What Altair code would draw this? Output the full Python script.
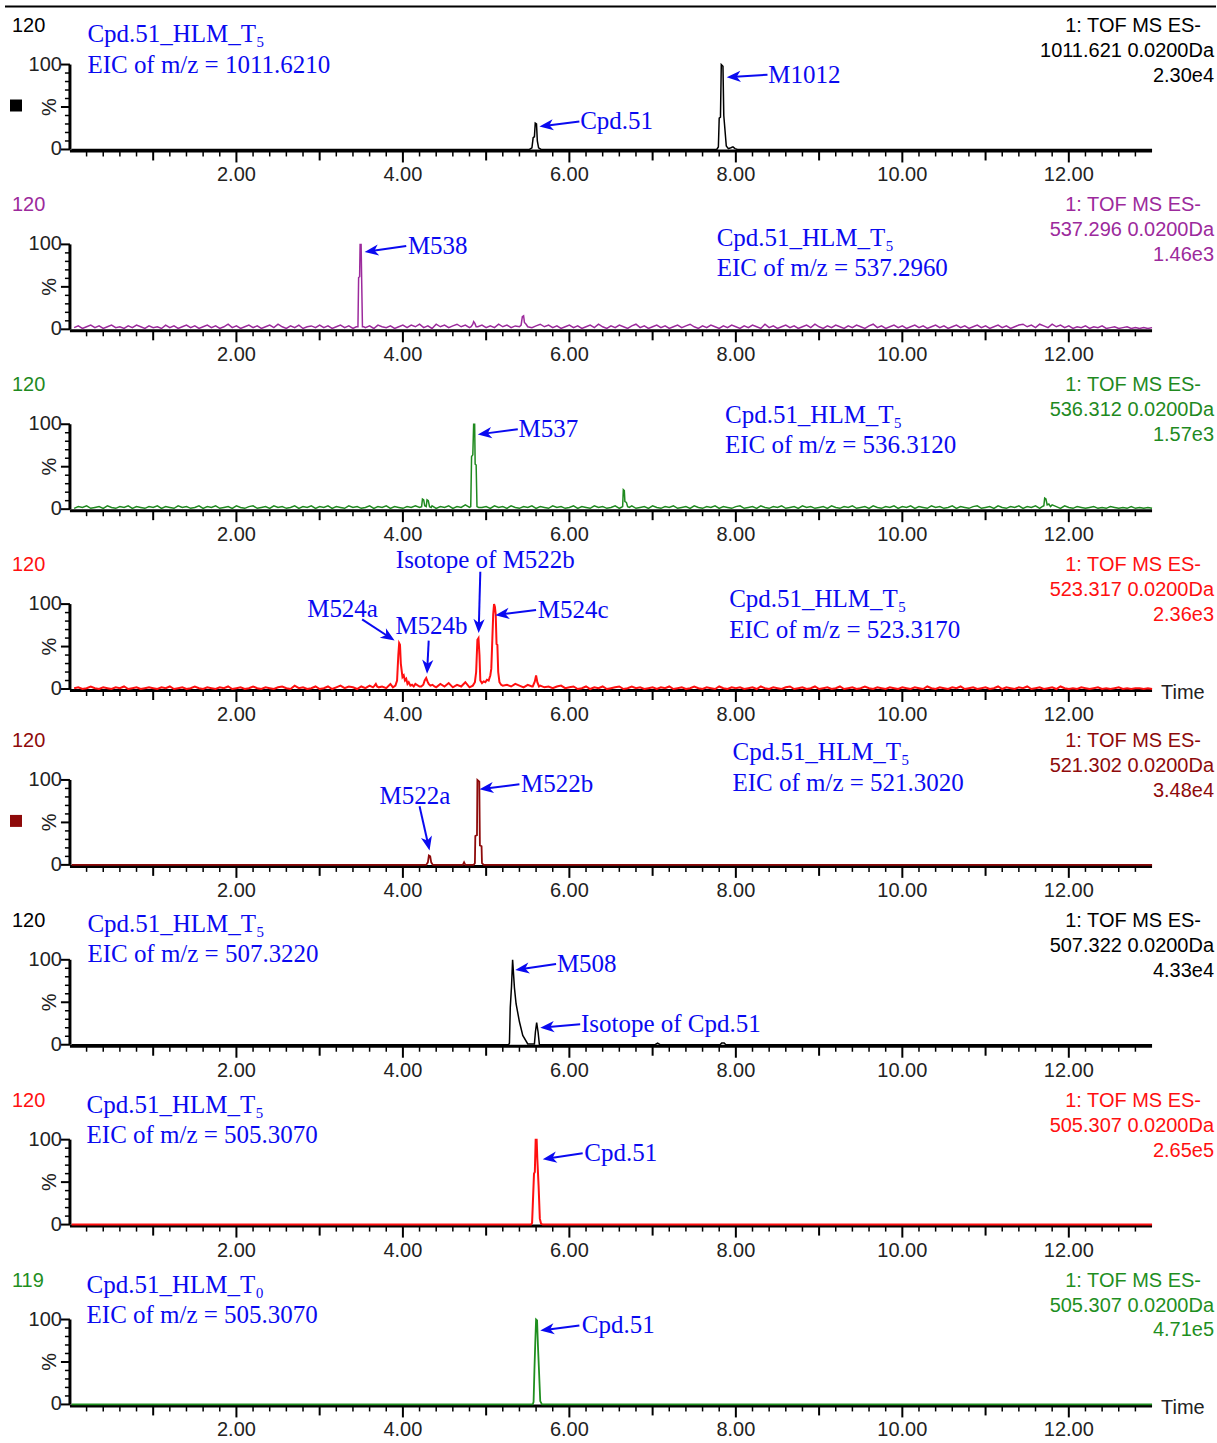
import math

import altair as alt
import pandas as pd

# ------------------------------------------------------------------
# Extracted-ion chromatograms of Cpd.51 and its HLM metabolites
# ------------------------------------------------------------------

sample_names = ["Cpd.51_HLM_T₅"] * 7 + ["Cpd.51_HLM_T₀"]
eic_targets = ["1011.6210", "537.2960", "536.3120", "523.3170",
               "521.3020", "507.3220", "505.3070", "505.3070"]
channel_mz = ["1011.621", "537.296", "536.312", "523.317",
              "521.302", "507.322", "505.307", "505.307"]
base_intensity = ["2.30e4", "1.46e3", "1.57e3", "2.36e3",
                  "3.48e4", "4.33e4", "2.65e5", "4.71e5"]
full_scale = ["120"] * 7 + ["119"]
trace_colors = ["#000000", "#9C2A9C", "#1F8A1F", "#FF1010",
                "#8E0A0A", "#000000", "#FF1010", "#1F8F1F"]
trace_widths = [1.5, 1.5, 1.5, 2.0, 1.8, 1.5, 2.0, 1.8]

time_labels = [2, 4, 6, 8, 10, 12]

# baseline noise (% of full scale), one value every 0.05 min from 0.05 to 13.00
noise_537 = [
    2, 4, 1, 3, 5, 2, 4, 1, 3, 5, 2, 3, 1, 4, 2, 5, 3, 1, 4, 2,
    3, 1, 5, 2, 4, 1, 3, 5, 2, 4, 1, 3, 5, 2, 4, 1, 3, 6, 2, 4,
    1, 3, 5, 2, 4, 1, 3, 5, 2, 6, 3, 1, 4, 2, 5, 1, 3, 4, 2, 5,
    2, 4, 1, 3, 5, 2, 4, 1, 3, 5, 2, 4, 1, 5, 3, 2, 4, 1, 3, 5,
    2, 5, 3, 6, 2, 4, 1, 6, 3, 5, 2, 4, 6, 3, 5, 2, 6, 3, 5, 2,
    4, 2, 6, 3, 5, 2, 4, 6, 3, 5, 2, 4, 6, 3, 5, 2, 4, 1, 3, 5,
    2, 4, 1, 3, 5, 2, 6, 3, 1, 4, 2, 5, 3, 1, 4, 6, 2, 4, 1, 3,
    5, 2, 4, 1, 3, 5, 2, 4, 6, 3, 1, 4, 2, 5, 3, 1, 4, 2, 5, 3,
    1, 4, 2, 5, 3, 1, 6, 2, 4, 1, 3, 5, 2, 4, 1, 3, 5, 2, 6, 3,
    1, 4, 2, 5, 3, 1, 4, 2, 5, 3, 1, 4, 6, 2, 4, 1, 3, 5, 2, 4,
    1, 3, 5, 2, 4, 1, 3, 5, 2, 4, 1, 3, 5, 2, 4, 1, 3, 5, 2, 4,
    1, 3, 5, 2, 4, 1, 3, 5, 6, 3, 5, 2, 6, 4, 2, 6, 3, 5, 2, 4,
    1, 3, 2, 4, 1, 3, 2, 4, 1, 2, 3, 1, 2, 3, 1, 2, 1, 2, 1, 2,
]
noise_536 = [
    1, 3, 2, 4, 1, 2, 3, 1, 4, 2, 1, 3, 2, 4, 1, 3, 2, 1, 3, 2,
    4, 1, 3, 2, 1, 4, 2, 3, 1, 2, 4, 1, 3, 2, 4, 1, 2, 3, 1, 4,
    2, 1, 3, 4, 1, 2, 3, 1, 4, 2, 3, 1, 2, 4, 1, 3, 2, 4, 1, 3,
    2, 4, 1, 3, 2, 1, 4, 2, 3, 1, 2, 4, 1, 3, 2, 4, 1, 3, 2, 1,
    3, 2, 4, 1, 3, 2, 4, 1, 3, 2, 4, 1, 3, 2, 5, 3, 1, 4, 2, 3,
    1, 4, 2, 3, 1, 4, 2, 1, 3, 2, 4, 1, 3, 2, 1, 4, 2, 3, 1, 2,
    4, 1, 3, 2, 1, 4, 2, 3, 1, 2, 4, 1, 3, 2, 4, 1, 2, 3, 1, 4,
    2, 1, 3, 2, 4, 1, 2, 3, 1, 4, 2, 1, 3, 2, 4, 1, 3, 2, 1, 3,
    4, 1, 2, 3, 1, 4, 2, 1, 3, 2, 4, 1, 2, 3, 1, 4, 2, 3, 1, 2,
    3, 1, 4, 2, 1, 3, 2, 4, 1, 2, 3, 1, 4, 2, 1, 3, 2, 4, 1, 3,
    2, 4, 1, 3, 2, 1, 4, 2, 3, 1, 2, 4, 1, 3, 2, 1, 3, 4, 1, 2,
    3, 1, 4, 2, 1, 3, 2, 4, 1, 3, 2, 4, 1, 3, 2, 5, 3, 1, 4, 2,
    1, 3, 2, 1, 2, 3, 1, 2, 1, 3, 2, 1, 2, 1, 3, 1, 2, 1, 2, 1,
]
noise_523 = [
    1, 2, 0, 1, 3, 1, 0, 2, 1, 0, 2, 1, 3, 0, 1, 2, 0, 1, 2, 1,
    0, 2, 1, 3, 0, 1, 2, 0, 1, 3, 1, 0, 2, 1, 0, 2, 1, 3, 0, 1,
    2, 0, 1, 3, 1, 0, 2, 1, 0, 2, 3, 1, 0, 4, 1, 2, 0, 1, 3, 0,
    1, 3, 0, 2, 4, 1, 3, 2, 0, 3, 1, 4, 2, 5, 3, 1, 6, 3, 2, 4,
    5, 2, 6, 3, 1, 7, 4, 2, 6, 3, 7, 2, 5, 3, 8, 2, 6, 4, 2, 6,
    3, 5, 7, 2, 5, 3, 6, 4, 2, 5, 3, 1, 4, 2, 3, 1, 3, 4, 1, 2,
    3, 0, 1, 3, 0, 2, 1, 3, 0, 1, 2, 3, 0, 1, 3, 1, 2, 0, 1, 2,
    0, 2, 1, 3, 0, 1, 2, 0, 1, 3, 1, 0, 2, 1, 0, 3, 1, 0, 2, 1,
    2, 0, 1, 2, 0, 3, 1, 0, 2, 1, 0, 2, 3, 0, 1, 2, 0, 1, 3, 0,
    1, 2, 0, 1, 3, 0, 1, 2, 0, 1, 3, 1, 0, 2, 1, 0, 2, 1, 0, 2,
    1, 0, 2, 1, 0, 3, 1, 0, 2, 1, 0, 2, 1, 3, 0, 1, 2, 0, 1, 2,
    0, 1, 3, 0, 2, 1, 0, 2, 1, 3, 0, 1, 2, 0, 1, 2, 0, 3, 1, 0,
    1, 0, 2, 1, 0, 1, 2, 0, 1, 0, 1, 2, 0, 1, 0, 1, 1, 0, 1, 0,
]

# peak profiles: (retention time in min, % of full scale)
peaks_1011 = [
    [(5.52, 0), (5.55, 2), (5.565, 14), (5.58, 15), (5.59, 31), (5.605, 30),
     (5.615, 10), (5.63, 2), (5.66, 0)],
    [(7.77, 0), (7.79, 3), (7.80, 37), (7.815, 38), (7.825, 100), (7.845, 98),
     (7.855, 40), (7.87, 22), (7.885, 4), (7.91, 1), (7.94, 2), (7.965, 3),
     (7.99, 1), (8.02, 0)],
]
peaks_537 = [
    [(3.44, 3), (3.46, 3), (3.468, 61), (3.48, 62), (3.486, 100), (3.498, 100),
     (3.504, 62), (3.514, 3), (3.53, 3)],
    [(4.82, 3), (4.84, 6), (4.85, 9), (4.865, 7), (4.88, 3)],
    [(5.40, 3), (5.42, 5), (5.435, 15), (5.45, 16), (5.46, 8), (5.48, 6), (5.50, 3)],
]
peaks_536 = [
    [(4.20, 2), (4.225, 3), (4.235, 12), (4.25, 11), (4.262, 4), (4.28, 3),
     (4.29, 11), (4.305, 10), (4.32, 3), (4.34, 2)],
    [(4.80, 2), (4.815, 3), (4.825, 62), (4.84, 64), (4.85, 100), (4.862, 100),
     (4.868, 53), (4.88, 52), (4.89, 3), (4.91, 2)],
    [(6.62, 2), (6.64, 3), (6.648, 23), (6.66, 22), (6.667, 9), (6.685, 8),
     (6.70, 3), (6.72, 2)],
    [(11.68, 3), (11.70, 4), (11.71, 13), (11.725, 12), (11.74, 5), (11.76, 6),
     (11.78, 3)],
]
peaks_523 = [
    [(3.64, 2), (3.66, 4), (3.675, 6), (3.69, 3), (3.71, 2)],
    [(3.88, 2), (3.91, 4), (3.93, 10), (3.945, 40), (3.955, 54), (3.965, 52),
     (3.975, 30), (3.985, 22), (3.995, 14), (4.01, 16), (4.025, 10), (4.04, 12),
     (4.055, 6), (4.07, 8), (4.09, 4), (4.11, 5), (4.13, 3)],
    [(4.22, 3), (4.245, 5), (4.262, 10), (4.28, 13), (4.295, 9), (4.31, 6),
     (4.33, 4), (4.355, 5), (4.38, 3)],
    [(4.84, 4), (4.865, 8), (4.88, 20), (4.895, 58), (4.908, 60), (4.92, 40),
     (4.93, 10), (4.95, 7), (4.97, 9), (4.99, 8), (5.01, 11), (5.03, 10),
     (5.05, 16), (5.062, 24), (5.075, 60), (5.085, 88), (5.095, 100),
     (5.105, 97), (5.115, 88), (5.125, 53), (5.135, 52), (5.145, 20),
     (5.16, 8), (5.18, 5), (5.20, 4)],
    [(5.56, 3), (5.585, 9), (5.60, 16), (5.615, 8), (5.635, 3)],
]
peaks_521 = [
    [(4.28, 0), (4.30, 3), (4.312, 11), (4.328, 10), (4.34, 3), (4.36, 0)],
    [(4.72, 0), (4.735, 3), (4.75, 0)],
    [(4.85, 0), (4.865, 2), (4.87, 34), (4.89, 35), (4.895, 100), (4.918, 98),
     (4.925, 23), (4.945, 22), (4.95, 2), (4.97, 0)],
]
peaks_507 = [
    [(5.27, 0), (5.28, 2), (5.29, 44), (5.305, 69), (5.318, 100), (5.34, 67),
     (5.36, 48), (5.40, 27), (5.44, 11), (5.50, 1), (5.58, 1), (5.592, 15),
     (5.607, 26), (5.624, 15), (5.64, 0)],
    [(7.03, 0), (7.06, 2), (7.09, 0)],
    [(7.81, 0), (7.83, 2), (7.86, 2), (7.88, 0)],
]
peaks_505_t5 = [
    [(5.54, 0), (5.552, 2), (5.56, 22), (5.575, 60), (5.585, 62), (5.595, 100),
     (5.607, 100), (5.615, 77), (5.63, 46), (5.645, 7), (5.66, 1), (5.68, 0)],
]
peaks_505_t0 = [
    [(5.56, 0), (5.57, 3), (5.58, 40), (5.59, 72), (5.60, 100), (5.612, 99),
     (5.622, 70), (5.635, 40), (5.65, 4), (5.67, 0)],
]

panel_noise = [None, noise_537, noise_536, noise_523, None, None, None, None]
panel_peaks = [peaks_1011, peaks_537, peaks_536, peaks_523,
               peaks_521, peaks_507, peaks_505_t5, peaks_505_t0]

# sample / EIC caption: (time, % for first line, % for second line)
caption_pos = [(0.21, 136, 99), (7.77, 108, 72), (7.87, 111, 75), (7.92, 106, 69),
               (7.96, 133, 96), (0.21, 142, 107), (0.20, 141, 105), (0.20, 141, 105)]

# peak labels: (text, time, %, align)
peak_labels = [
    [("M1012", 8.39, 88, "left"), ("Cpd.51", 6.13, 33, "left")],
    [("M538", 4.06, 98, "left")],
    [("M537", 5.39, 94, "left")],
    [("Isotope of M522b", 4.99, 152, "center"), ("M524a", 2.85, 94, "left"),
     ("M524b", 3.91, 74, "left"), ("M524c", 5.62, 93, "left")],
    [("M522a", 3.72, 81, "left"), ("M522b", 5.42, 95, "left")],
    [("M508", 5.85, 95, "left"), ("Isotope of Cpd.51", 6.14, 24, "left")],
    [("Cpd.51", 6.18, 84, "left")],
    [("Cpd.51", 6.15, 93, "left")],
]
# arrows: (tail time, tail %, tip time, tip %)
peak_arrows = [
    [(8.38, 88, 7.89, 85), (6.12, 33, 5.64, 27)],
    [(4.04, 98, 3.54, 91)],
    [(5.38, 94, 4.90, 88)],
    [(4.93, 138, 4.91, 66), (3.51, 82, 3.90, 57), (4.31, 57, 4.29, 18),
     (5.60, 93, 5.11, 87)],
    [(4.20, 69, 4.32, 17), (5.40, 95, 4.92, 89)],
    [(5.84, 95, 5.35, 88), (6.13, 24, 5.65, 20)],
    [(6.16, 84, 5.68, 77)],
    [(6.12, 93, 5.65, 87)],
]
square_panels = {0: "#000000", 4: "#8E0A0A"}
time_title_panels = [3, 7]

# ---- geometry and styling ----
PLOT_W = 1083
T_MAX = 13.0
PX_PER_MIN = PLOT_W / T_MAX
PX_PER_PCT = 0.85
PANEL_H = [136, 136, 136, 136, 132, 136, 136, 136]
SPACING = 44
LEFT, TOP, CANVAS_W, CANVAS_H = 70, 13, 1217, 1443

BLUE = "#0A0AF0"
SANS = "Liberation Sans"
SERIF = "Liberation Serif"
SERIF_SIZE = 25
ARROW_HEAD = "M0,0 L0.4,1 L0,0.72 L-0.4,1 Z"
HEAD_LEN = 14


def compose_trace(noise, peaks):
    if noise is None:
        base = [(0.02, 0), (T_MAX, 0)]
    else:
        base = [(round(0.05 * (i + 1), 2), v) for i, v in enumerate(noise)]
    windows = [(min(p[0] for p in pk), max(p[0] for p in pk)) for pk in peaks]
    pts = [(t, v) for t, v in base if not any(lo <= t <= hi for lo, hi in windows)]
    for pk in peaks:
        pts.extend(pk)
    pts.sort(key=lambda p: p[0])
    return pd.DataFrame({"t": [p[0] for p in pts], "v": [p[1] for p in pts],
                         "i": list(range(len(pts)))})


def arrow_frame(arrows):
    rows = []
    for t1, v1, t2, v2 in arrows:
        dx = (t2 - t1) * PX_PER_MIN
        dy = -(v2 - v1) * PX_PER_PCT
        length = math.hypot(dx, dy)
        ux, uy = dx / length, dy / length
        back = HEAD_LEN * 0.6
        rows.append(dict(
            t1=t1, v1=v1, t2=t2, v2=v2,
            te=t2 - ux * back / PX_PER_MIN,
            ve=v2 + uy * back / PX_PER_PCT,
            ang=math.degrees(math.atan2(dx, -dy)) % 360,
        ))
    return pd.DataFrame(rows)


def build_panel(k):
    H = PANEL_H[k]
    xs = alt.Scale(domain=[0, T_MAX], nice=False, zero=False)
    ys = alt.Scale(domain=[0, H / PX_PER_PCT], nice=False, zero=False)
    color = trace_colors[k]

    def X(f):
        return alt.X(f, type="quantitative", scale=xs, axis=None)

    def Y(f):
        return alt.Y(f, type="quantitative", scale=ys, axis=None)

    def px_text(x, y, text, **style):
        return alt.Chart(pd.DataFrame({"s": [text]})).mark_text(
            baseline="middle", **style).encode(
            x=alt.value(x), y=alt.value(y), text="s:N")

    one = pd.DataFrame({"a": [0]})
    layers = []

    if k == 0:
        # page frame and the rule across the top
        layers.append(alt.Chart(one).mark_rect(opacity=0, strokeWidth=0).encode(
            x=alt.value(-LEFT), x2=alt.value(CANVAS_W - LEFT),
            y=alt.value(-TOP), y2=alt.value(CANVAS_H - TOP)))
        layers.append(alt.Chart(one).mark_rule(color="black", strokeWidth=2).encode(
            x=alt.value(-LEFT + 5), x2=alt.value(CANVAS_W - LEFT),
            y=alt.value(6 - TOP)))

    # time axis
    layers.append(alt.Chart(pd.DataFrame({"t0": [0.0], "t1": [T_MAX]}))
                  .mark_rule(color="black", strokeWidth=3).encode(
        x=X("t0"), x2=alt.X2("t1"), y=alt.value(H + 1.5)))
    minor_t = [round(j * 0.2, 1) for j in range(1, 65) if j % 5]
    layers.append(alt.Chart(pd.DataFrame({"t": minor_t}))
                  .mark_rule(color="black", strokeWidth=1.5).encode(
        x=X("t"), y=alt.value(H + 2), y2=alt.value(H + 7)))
    layers.append(alt.Chart(pd.DataFrame({"t": [1, 3, 5, 7, 9, 11]}))
                  .mark_rule(color="black", strokeWidth=2).encode(
        x=X("t"), y=alt.value(H + 2), y2=alt.value(H + 11)))
    layers.append(alt.Chart(pd.DataFrame({"t": time_labels}))
                  .mark_rule(color="black", strokeWidth=2).encode(
        x=X("t"), y=alt.value(H + 2), y2=alt.value(H + 13)))
    layers.append(alt.Chart(pd.DataFrame({
        "t": time_labels, "s": [f"{t:.2f}" for t in time_labels]}))
        .mark_text(font=SANS, fontSize=20, color="#222222", baseline="middle").encode(
        x=X("t"), y=alt.value(H + 26), text="s:N"))

    # intensity axis (0-100 %)
    layers.append(alt.Chart(pd.DataFrame({"v0": [0], "v1": [100]}))
                  .mark_rule(color="black", strokeWidth=3).encode(
        x=alt.value(0), y=Y("v0"), y2=alt.Y2("v1")))
    layers.append(alt.Chart(pd.DataFrame({"v": [10, 20, 30, 40, 60, 70, 80, 90]}))
                  .mark_rule(color="black", strokeWidth=1.5).encode(
        x=alt.value(-5), x2=alt.value(0), y=Y("v")))
    layers.append(alt.Chart(pd.DataFrame({"v": [0, 50, 100]}))
                  .mark_rule(color="black", strokeWidth=2).encode(
        x=alt.value(-9), x2=alt.value(0), y=Y("v")))
    layers.append(alt.Chart(pd.DataFrame({"v": [0, 100], "s": ["0", "100"]}))
                  .mark_text(font=SANS, fontSize=20, color="#222222", align="right",
                             baseline="middle").encode(
        x=alt.value(-8), y=Y("v"), text="s:N"))
    layers.append(alt.Chart(pd.DataFrame({"v": [50], "s": ["%"]}))
                  .mark_text(font=SANS, fontSize=20, color="#222222", angle=270,
                             baseline="middle").encode(
        x=alt.value(-20), y=Y("v"), text="s:N"))

    # chromatogram trace
    layers.append(alt.Chart(compose_trace(panel_noise[k], panel_peaks[k]))
                  .mark_line(color=color, strokeWidth=trace_widths[k]).encode(
        x=X("t"), y=Y("v"), order=alt.Order("i:Q")))

    # acquisition header
    hdr = dict(font=SANS, fontSize=20, color=color)
    layers.append(px_text(-58, H - 124, full_scale[k], align="left", **hdr))
    layers.append(px_text(1202 - LEFT, H - 124, "1: TOF MS ES-", align="right", **hdr))
    layers.append(px_text(1215 - LEFT, H - 99, f"{channel_mz[k]} 0.0200Da",
                          align="right", **hdr))
    layers.append(px_text(1215 - LEFT, H - 74, base_intensity[k], align="right", **hdr))

    # sample caption
    ct, cv1, cv2 = caption_pos[k]
    layers.append(alt.Chart(pd.DataFrame({
        "t": [ct, ct], "v": [cv1, cv2],
        "s": [sample_names[k], f"EIC of m/z = {eic_targets[k]}"]}))
        .mark_text(font=SERIF, fontSize=SERIF_SIZE, color=BLUE, align="left",
                   baseline="middle").encode(x=X("t"), y=Y("v"), text="s:N"))

    # peak annotations
    arr = arrow_frame(peak_arrows[k])
    layers.append(alt.Chart(arr).mark_rule(color=BLUE, strokeWidth=2).encode(
        x=X("t1"), y=Y("v1"), x2=alt.X2("te"), y2=alt.Y2("ve")))
    layers.append(alt.Chart(arr).mark_point(
        shape=ARROW_HEAD, filled=True, size=(2 * HEAD_LEN) ** 2, color=BLUE,
        opacity=1, strokeWidth=0).encode(
        x=X("t2"), y=Y("v2"), angle=alt.Angle("ang:Q", scale=None)))
    for align in ("left", "center"):
        rows = [r for r in peak_labels[k] if r[3] == align]
        if rows:
            layers.append(alt.Chart(pd.DataFrame({
                "s": [r[0] for r in rows], "t": [r[1] for r in rows],
                "v": [r[2] for r in rows]}))
                .mark_text(font=SERIF, fontSize=SERIF_SIZE, color=BLUE, align=align,
                           baseline="middle").encode(x=X("t"), y=Y("v"), text="s:N"))

    if k in square_panels:
        layers.append(alt.Chart(one).mark_square(
            size=144, filled=True, opacity=1, color=square_panels[k]).encode(
            x=alt.value(16 - LEFT), y=alt.value(H - 44)))
    if k in time_title_panels:
        layers.append(px_text(1162 - LEFT, H + 4, "Time", align="left",
                              font=SANS, fontSize=20, color="#222222"))

    return alt.layer(*layers).properties(width=PLOT_W, height=H)


chart = alt.vconcat(
    *[build_panel(k) for k in range(8)], spacing=SPACING, bounds="flush"
).properties(padding=0).configure_view(strokeWidth=0)

chart.save("out.html", embed_options={"renderer": "svg", "actions": False})
